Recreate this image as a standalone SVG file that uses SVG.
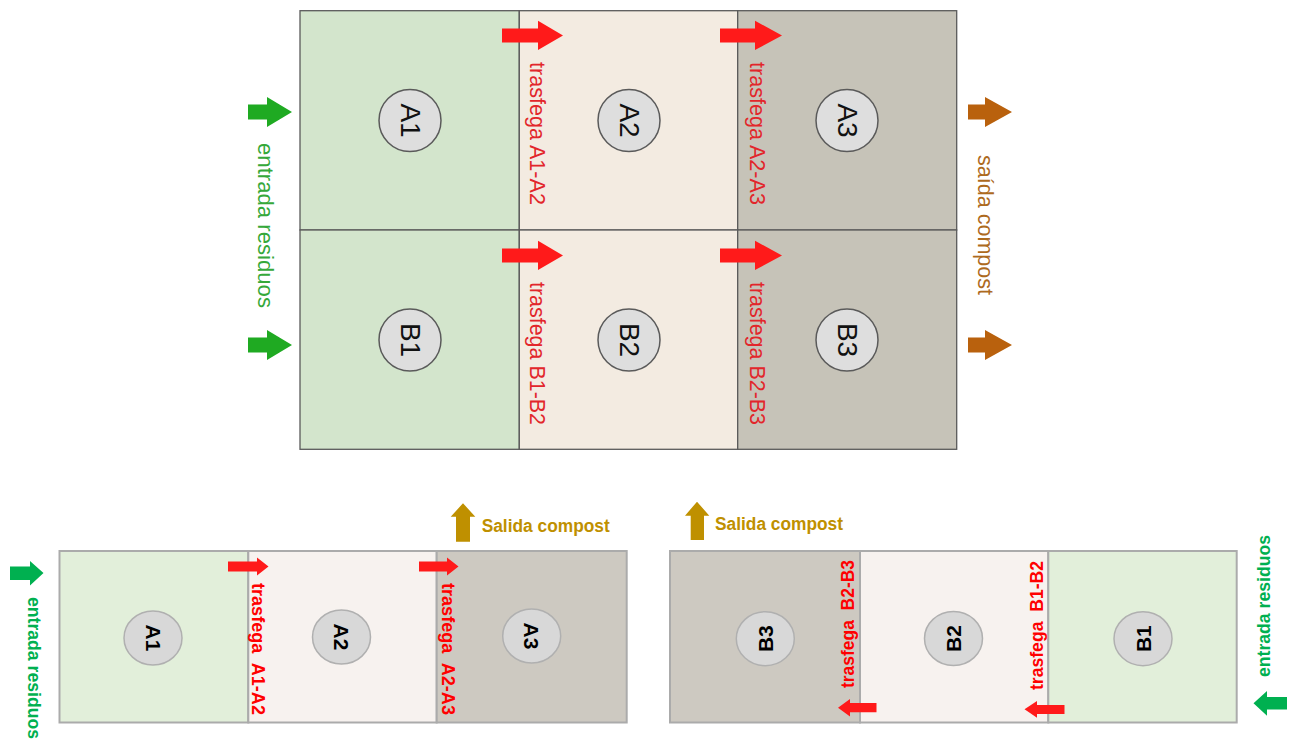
<svg xmlns="http://www.w3.org/2000/svg" width="1291" height="740" viewBox="0 0 1291 740">
<style>
.t{font-family:"Liberation Sans",Arial,sans-serif}
.cellT{stroke:#5a5a5a;stroke-width:1.3}
.cellB{stroke:#ababab;stroke-width:2}
.circT{fill:#dedede;stroke:#5a5a5a;stroke-width:1.5}
.circB{fill:#d8d8d8;stroke:#b0b0b0;stroke-width:1.5}
.lblT{font-size:28px;fill:#111}
.lblB{font-size:21px;font-weight:bold;fill:#000}
.redT{font-size:22px;fill:#e2262b}
.redB{font-size:18px;font-weight:bold;fill:#ff0000;white-space:pre}
.grnT{font-size:22px;fill:#35a83a}
.grnB{font-size:18px;font-weight:bold;fill:#00b050}
.brnT{font-size:22px;fill:#ad6a1e}
.gold{font-size:18px;font-weight:bold;fill:#bf9000}
.ar{fill:#ff1a1a}
.ag{fill:#1faa22}
.ab{fill:#b9610d}
.agB{fill:#00b050}
.au{fill:#bf9000}
</style>

<!-- Top diagram -->
<g id="top-A1"><rect class="cellT" x="300" y="10.7" width="219.3" height="219.3" fill="#d3e5cc"/><circle class="circT" cx="410" cy="120.5" r="31"/><text class="t lblT" transform="translate(410,120.5) rotate(90)" text-anchor="middle" dominant-baseline="central">A1</text></g>
<g id="top-A2"><rect class="cellT" x="519.3" y="10.7" width="218.4" height="219.3" fill="#f3ebe1"/><circle class="circT" cx="629" cy="120.5" r="31"/><text class="t lblT" transform="translate(629,120.5) rotate(90)" text-anchor="middle" dominant-baseline="central">A2</text></g>
<g id="top-A3"><rect class="cellT" x="737.7" y="10.7" width="219" height="219.3" fill="#c6c3b8"/><circle class="circT" cx="847" cy="120.5" r="31"/><text class="t lblT" transform="translate(847,120.5) rotate(90)" text-anchor="middle" dominant-baseline="central">A3</text></g>
<g id="top-B1"><rect class="cellT" x="300" y="230" width="219.3" height="219.3" fill="#d3e5cc"/><circle class="circT" cx="410" cy="340" r="31"/><text class="t lblT" transform="translate(410,340) rotate(90)" text-anchor="middle" dominant-baseline="central">B1</text></g>
<g id="top-B2"><rect class="cellT" x="519.3" y="230" width="218.4" height="219.3" fill="#f3ebe1"/><circle class="circT" cx="629" cy="340" r="31"/><text class="t lblT" transform="translate(629,340) rotate(90)" text-anchor="middle" dominant-baseline="central">B2</text></g>
<g id="top-B3"><rect class="cellT" x="737.7" y="230" width="219" height="219.3" fill="#c6c3b8"/><circle class="circT" cx="847" cy="340" r="31"/><text class="t lblT" transform="translate(847,340) rotate(90)" text-anchor="middle" dominant-baseline="central">B3</text></g>

<!-- Bottom left diagram -->
<g id="bl-A1"><rect class="cellB" x="59.5" y="551" width="188.8" height="171.5" fill="#e2efda"/><ellipse class="circB" cx="153" cy="638" rx="29" ry="27"/><text class="t lblB" transform="translate(153,638) rotate(90)" text-anchor="middle" dominant-baseline="central">A1</text></g>
<g id="bl-A2"><rect class="cellB" x="248.3" y="551" width="188.4" height="171.5" fill="#f7f2ef"/><ellipse class="circB" cx="341.5" cy="637" rx="29" ry="27"/><text class="t lblB" transform="translate(341.5,637) rotate(90)" text-anchor="middle" dominant-baseline="central">A2</text></g>
<g id="bl-A3"><rect class="cellB" x="436.7" y="551" width="190" height="171.5" fill="#cdc9c1"/><ellipse class="circB" cx="531.7" cy="636" rx="29" ry="27"/><text class="t lblB" transform="translate(531.7,636) rotate(90)" text-anchor="middle" dominant-baseline="central">A3</text></g>

<!-- Bottom right diagram -->
<g id="br-B3"><rect class="cellB" x="670" y="551" width="190" height="171.5" fill="#cdc9c1"/><ellipse class="circB" cx="765.3" cy="638.7" rx="29" ry="27"/><text class="t lblB" transform="translate(765.3,638.7) rotate(-90)" text-anchor="middle" dominant-baseline="central">B3</text></g>
<g id="br-B2"><rect class="cellB" x="860" y="551" width="188.3" height="171.5" fill="#f7f2ef"/><ellipse class="circB" cx="953.5" cy="638.5" rx="29" ry="27"/><text class="t lblB" transform="translate(953.5,638.5) rotate(-90)" text-anchor="middle" dominant-baseline="central">B2</text></g>
<g id="br-B1"><rect class="cellB" x="1048.3" y="551" width="188.4" height="171.5" fill="#e2efda"/><ellipse class="circB" cx="1143" cy="638.7" rx="29" ry="27"/><text class="t lblB" transform="translate(1143,638.7) rotate(-90)" text-anchor="middle" dominant-baseline="central">B1</text></g>

<!-- Connectors -->
<g id="connectors">
  <polygon class="ar" points="502,28.5 538,28.5 538,20.7 563,35.5 538,50 538,42.5 502,42.5"/>
  <polygon class="ar" points="720,28.5 755,28.5 755,20.7 782,35.5 755,50 755,42.5 720,42.5"/>
  <polygon class="ar" points="502,248.5 538,248.5 538,240.7 563,255.5 538,270 538,262.5 502,262.5"/>
  <polygon class="ar" points="720,248.5 755,248.5 755,240.7 782,255.5 755,270 755,262.5 720,262.5"/>
  <polygon class="ag" points="248,104.5 267,104.5 267,97 292,112 267,127 267,119.5 248,119.5"/>
  <polygon class="ag" points="248,337.5 267,337.5 267,330 292,345 267,360 267,352.5 248,352.5"/>
  <polygon class="ab" points="968,104.5 985,104.5 985,97 1012,112 985,127 985,119.5 968,119.5"/>
  <polygon class="ab" points="968,337.5 985,337.5 985,330 1012,345 985,360 985,352.5 968,352.5"/>

  <polygon class="ar" points="228,561.5 257,561.5 257,557.5 268.5,566.5 257,575.5 257,571.5 228,571.5"/>
  <polygon class="ar" points="419,561.5 447,561.5 447,557.5 458.5,566.5 447,575.5 447,571.5 419,571.5"/>
  <polygon class="agB" points="10,566.5 30,566.5 30,561 43.5,573 30,585.5 30,580 10,580"/>
  <polygon class="au" points="456,541.7 456,516.7 450.7,516.7 463,503.3 475.3,516.7 470,516.7 470,541.7"/>

  <polygon class="ar" points="876.5,703 850,703 850,699 838,707.8 850,716.5 850,712.3 876.5,712.3"/>
  <polygon class="ar" points="1064.5,705 1037,705 1037,701 1024.5,709.3 1037,717.7 1037,714 1064.5,714"/>
  <polygon class="agB" points="1287,697 1267,697 1267,691 1253.5,703.3 1267,715.7 1267,709.5 1287,709.5"/>
  <polygon class="au" points="690.7,540 690.7,515.7 685,515.7 697,501.7 709.3,515.7 704,515.7 704,540"/>
</g>

<!-- Labels -->
<g id="labels">
  <text class="t grnT" transform="translate(265,225.5) rotate(90)" text-anchor="middle" dominant-baseline="central" textLength="165" lengthAdjust="spacingAndGlyphs">entrada residuos</text>
  <text class="t redT" transform="translate(537,133.5) rotate(90)" text-anchor="middle" dominant-baseline="central" textLength="143" lengthAdjust="spacingAndGlyphs">trasfega A1-A2</text>
  <text class="t redT" transform="translate(757,133.5) rotate(90)" text-anchor="middle" dominant-baseline="central" textLength="143" lengthAdjust="spacingAndGlyphs">trasfega A2-A3</text>
  <text class="t redT" transform="translate(537,353.5) rotate(90)" text-anchor="middle" dominant-baseline="central" textLength="143" lengthAdjust="spacingAndGlyphs">trasfega B1-B2</text>
  <text class="t redT" transform="translate(757,353.5) rotate(90)" text-anchor="middle" dominant-baseline="central" textLength="143" lengthAdjust="spacingAndGlyphs">trasfega B2-B3</text>
  <text class="t brnT" transform="translate(985,225) rotate(90)" text-anchor="middle" dominant-baseline="central" textLength="140" lengthAdjust="spacingAndGlyphs">saída compost</text>

  <text class="t redB" transform="translate(258.3,649) rotate(90)" text-anchor="middle" dominant-baseline="central" textLength="132" lengthAdjust="spacingAndGlyphs">trasfega  A1-A2</text>
  <text class="t redB" transform="translate(448.3,649) rotate(90)" text-anchor="middle" dominant-baseline="central" textLength="132" lengthAdjust="spacingAndGlyphs">trasfega  A2-A3</text>
  <text class="t grnB" transform="translate(34,668) rotate(90)" text-anchor="middle" dominant-baseline="central" textLength="142" lengthAdjust="spacingAndGlyphs">entrada residuos</text>
  <text class="t gold" x="481.7" y="531.7" textLength="128" lengthAdjust="spacingAndGlyphs">Salida compost</text>

  <text class="t redB" transform="translate(848.3,624) rotate(-90)" text-anchor="middle" dominant-baseline="central" textLength="128" lengthAdjust="spacingAndGlyphs">trasfega  B2-B3</text>
  <text class="t redB" transform="translate(1036.7,625.5) rotate(-90)" text-anchor="middle" dominant-baseline="central" textLength="129" lengthAdjust="spacingAndGlyphs">trasfega  B1-B2</text>
  <text class="t grnB" transform="translate(1264,606) rotate(-90)" text-anchor="middle" dominant-baseline="central" textLength="142" lengthAdjust="spacingAndGlyphs">entrada residuos</text>
  <text class="t gold" x="715" y="530" textLength="128" lengthAdjust="spacingAndGlyphs">Salida compost</text>
</g>
</svg>
